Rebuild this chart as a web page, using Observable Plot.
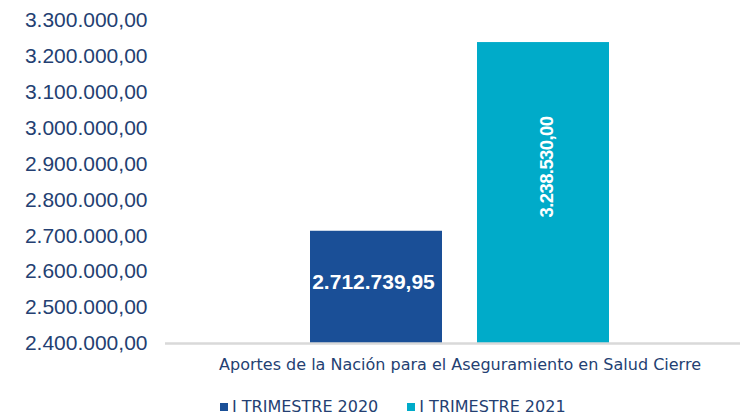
<!DOCTYPE html>
<html>
<head>
<meta charset="utf-8">
<script src="https://cdn.jsdelivr.net/npm/d3@7"></script>
<script src="https://cdn.jsdelivr.net/npm/@observablehq/plot@0.6"></script>
<style>
  body { margin: 0; background: #fff; }
  #legend { display: flex; gap: 29px; padding-left: 220px; margin-top: 8px;
    font-family: "DejaVu Sans", sans-serif; font-size: 16px; color: #243f72; line-height: 17px; }
  #legend span.sw { display: inline-block; width: 8px; height: 8px; margin-right: 4px; vertical-align: 1px; }
  .rotlabel text { letter-spacing: -0.6px; }
</style>
</head>
<body>
<div id="chart"></div>
<script>
const category = "Aportes de la Nación para el Aseguramiento en Salud Cierre";
const series = ["I TRIMESTRE 2020", "I TRIMESTRE 2021"];
const values = [2712739.95, 3238530.00];
const colors = ["#1a4f97", "#00abc9"];
const yTicks = [2400000, 2500000, 2600000, 2700000, 2800000, 2900000, 3000000, 3100000, 3200000, 3300000];
const yMin = 2400000, yMax = 3300000;

const es = d3.formatLocale({decimal: ",", thousands: ".", grouping: [3], currency: ["$", ""]});
const fmt = es.format(",.2f");

const data = series.map((s, i) => ({category, series: s, value: values[i]}));
const mid = d => (d.value + yMin) / 2;

const plot = Plot.plot({
  width: 740,
  height: 390,
  marginLeft: 165,
  marginRight: 0,
  marginTop: 20,
  marginBottom: 47,
  style: {fontFamily: "'Liberation Sans', Arial, sans-serif", color: "#243f72", background: "#fff"},
  fx: {domain: [category], padding: 0, label: null},
  x: {domain: series, paddingInner: 0.21, paddingOuter: 0.826, align: 0.525, axis: null},
  y: {domain: [yMin, yMax], label: null},
  color: {domain: series, range: colors},
  marks: [
    Plot.barY(data, {fx: "category", x: "series", y1: yMin, y2: "value", fill: "series"}),
    Plot.ruleY([yMin], {stroke: "#d9d9d9", strokeWidth: 2.5}),
    Plot.axisY({ticks: yTicks, tickFormat: fmt, tickSize: 0, tickPadding: 18, fontSize: 21, fill: "#243f72"}),
    Plot.axisFx({anchor: "bottom", tickSize: 0, tickPadding: 15, label: null, fontSize: 16, dx: 7,
      fontFamily: "'DejaVu Sans', sans-serif", fill: "#243f72"}),
    Plot.text(data.filter((d, i) => i === 0), {fx: "category", x: "series", y: mid, text: d => fmt(d.value),
      fill: "white", fontWeight: "bold", fontSize: 21, dx: -3, dy: -5}),
    Plot.text(data.filter((d, i) => i === 1), {fx: "category", x: "series", y: mid, text: d => fmt(d.value),
      fill: "white", fontWeight: "bold", fontSize: 18.5, rotate: -90, dx: 4, dy: -26, className: "rotlabel"})
  ]
});
document.getElementById("chart").appendChild(plot);

const legend = document.createElement("div");
legend.id = "legend";
series.forEach((s, i) => {
  const item = document.createElement("div");
  item.innerHTML = `<span class="sw" style="background:${colors[i]}"></span>${s}`;
  legend.appendChild(item);
});
document.body.appendChild(legend);
</script>
</body>
</html>
